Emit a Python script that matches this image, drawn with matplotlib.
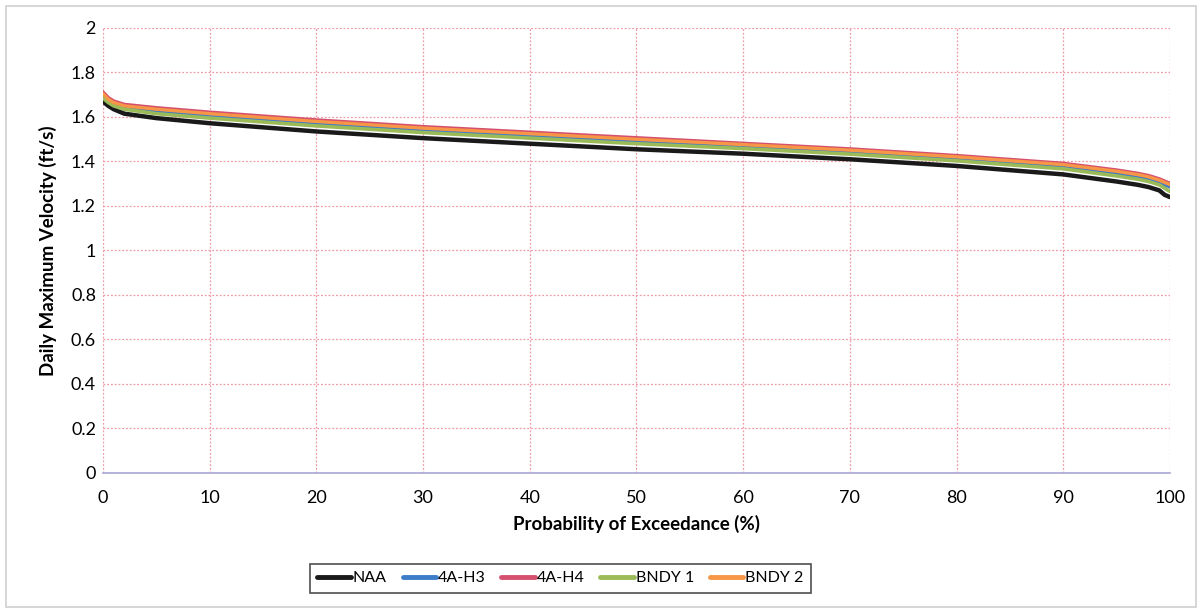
import matplotlib
matplotlib.use("Agg")
import matplotlib.pyplot as plt
from matplotlib.patches import Rectangle

plt.rcParams['font.family'] = ['Lato', 'DejaVu Sans']

# Exceedance probability (%) at which each velocity curve is sampled
exceedance = [0, 0.5, 1, 2, 5, 10, 20, 30, 40, 50, 60, 70, 80, 90, 95, 97, 98, 99, 99.5, 100]

# Daily maximum velocity (ft/s) for each alternative
naa = [1.67, 1.65, 1.635, 1.615, 1.595, 1.572, 1.535, 1.505, 1.48, 1.455,
       1.435, 1.41, 1.38, 1.342, 1.31, 1.295, 1.285, 1.27, 1.25, 1.24]
alt_4a_h3 = [1.695, 1.672, 1.657, 1.64, 1.625, 1.605, 1.57, 1.54, 1.515, 1.49,
             1.466, 1.441, 1.411, 1.376, 1.346, 1.331, 1.321, 1.306, 1.296, 1.286]
alt_4a_h4 = [1.71, 1.685, 1.67, 1.655, 1.64, 1.62, 1.585, 1.555, 1.53, 1.505,
             1.48, 1.455, 1.425, 1.39, 1.36, 1.345, 1.335, 1.32, 1.31, 1.30]
bndy_1 = [1.685, 1.665, 1.65, 1.635, 1.615, 1.595, 1.56, 1.53, 1.505, 1.48,
          1.458, 1.433, 1.403, 1.367, 1.335, 1.32, 1.31, 1.295, 1.28, 1.265]
bndy_2 = [1.705, 1.68, 1.665, 1.65, 1.635, 1.615, 1.58, 1.55, 1.525, 1.5,
          1.476, 1.451, 1.421, 1.386, 1.356, 1.341, 1.331, 1.316, 1.306, 1.296]

series_names = ["NAA", "4A-H3", "4A-H4", "BNDY 1", "BNDY 2"]
series_values = [naa, alt_4a_h3, alt_4a_h4, bndy_1, bndy_2]
series_colors = ["#1a1a1a", "#3d7cc9", "#d4506e", "#9bbb59", "#f79646"]

x_ticks = [0, 10, 20, 30, 40, 50, 60, 70, 80, 90, 100]
y_ticks = [0, 0.2, 0.4, 0.6, 0.8, 1.0, 1.2, 1.4, 1.6, 1.8, 2.0]
y_tick_labels = ["0", "0.2", "0.4", "0.6", "0.8", "1", "1.2", "1.4", "1.6", "1.8", "2"]

fig = plt.figure(figsize=(12, 6.1), dpi=100)
ax = fig.add_axes([0.0858, 0.2246, 0.8892, 0.7295])

# Chart-area border
fig.patches.append(Rectangle((0.005, 0.005), 0.992, 0.985, transform=fig.transFigure,
                             fill=False, edgecolor="#d0d0d0", linewidth=1.2))

widths = [3.2, 2.6, 3.0, 2.6, 2.4]
orders = [3, 4, 5, 6, 7]
draw_sequence = [0, 1, 3, 4, 2]
lines = {}
for i in draw_sequence:
    ln, = ax.plot(exceedance, series_values[i], color=series_colors[i],
                  linewidth=widths[i], solid_capstyle="round", zorder=orders[i])
    lines[i] = ln

ax.set_xlim(0, 100)
ax.set_ylim(0, 2)
ax.set_xticks(x_ticks)
ax.set_yticks(y_ticks)
ax.set_yticklabels(y_tick_labels)
ax.tick_params(axis="both", length=0, labelsize=13)
ax.tick_params(axis="x", pad=12)
ax.tick_params(axis="y", pad=5)

ax.grid(True, color="#ef9aa8", linestyle=(0, (1.5, 1.5)), linewidth=0.9)
ax.set_axisbelow(True)
for side in ["top", "right", "left"]:
    ax.spines[side].set_visible(False)
ax.spines["bottom"].set_color("#a9a7d6")
ax.spines["bottom"].set_linewidth(1.2)

ax.set_xlabel("Probability of Exceedance (%)", fontsize=13.5, fontweight="bold", labelpad=7)
ax.set_ylabel("Daily Maximum Velocity (ft/s)", fontsize=13.5, fontweight="bold", labelpad=10)

handles = [lines[i] for i in range(5)]
leg = fig.legend(handles, series_names, loc="center", bbox_to_anchor=(0.467, 0.052),
                 ncol=5, frameon=True, fancybox=False, fontsize=11.5,
                 handlelength=2.1, handletextpad=0.1, columnspacing=1.0,
                 borderpad=0.45)
leg.get_frame().set_edgecolor("#222222")
leg.get_frame().set_linewidth(1.2)
for h in leg.get_lines():
    h.set_linewidth(3.5)

fig.savefig("out.png", dpi=100, facecolor="white")
